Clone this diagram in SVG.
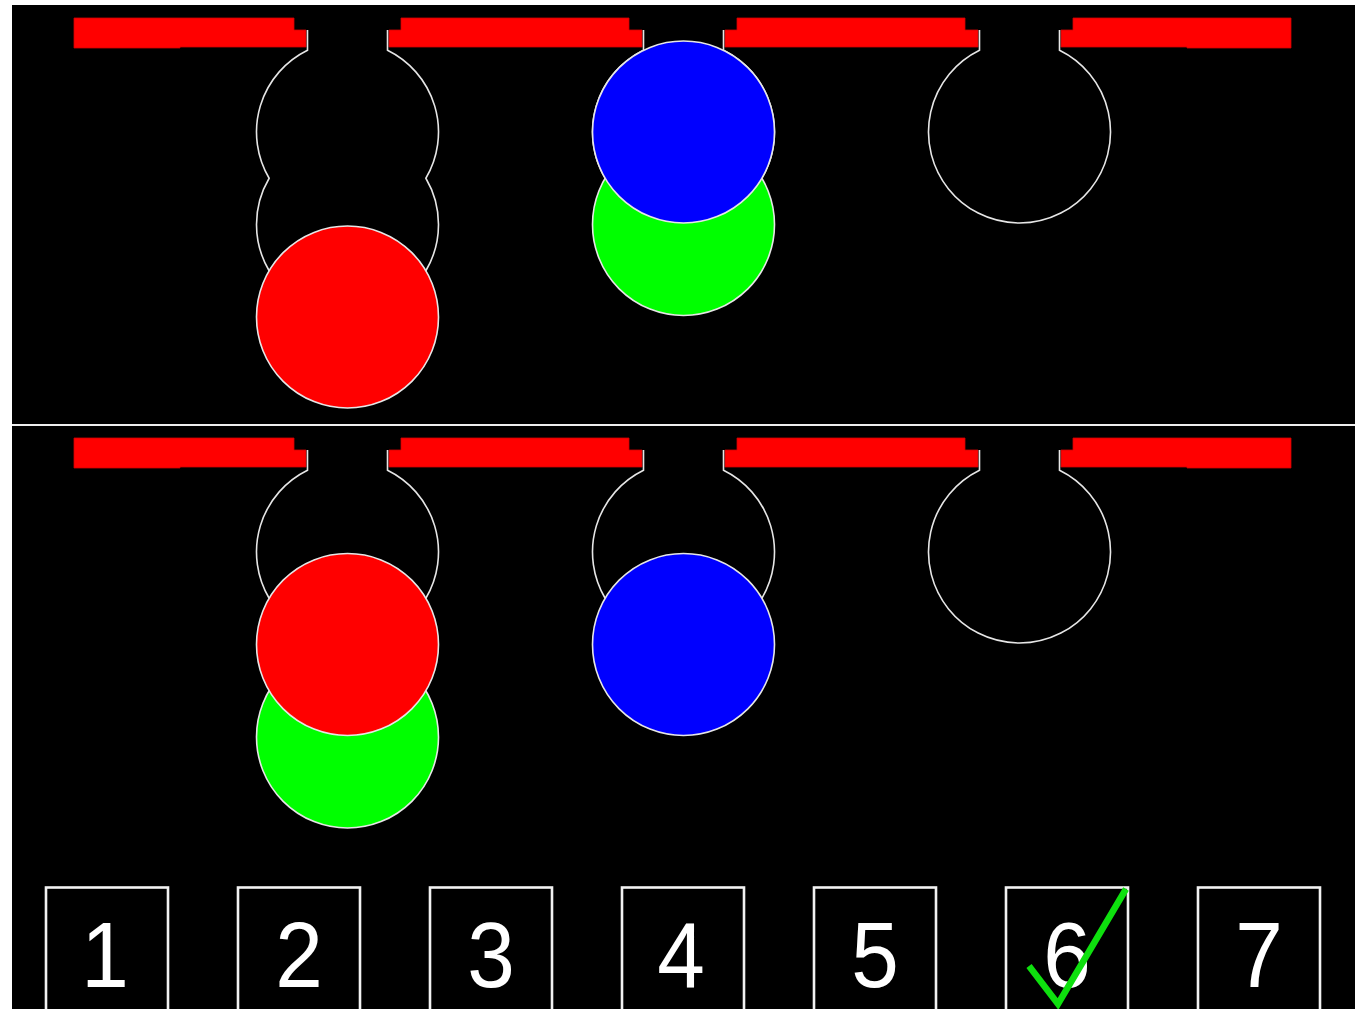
<svg xmlns="http://www.w3.org/2000/svg" width="1355" height="1009" viewBox="0 0 1355 1009">
<style>
.bar{fill:#ff0000;stroke:#d00000;stroke-width:0.8}
.ol{fill:none;stroke:#e6e6e6;stroke-width:1.6}
.red{fill:#ff0000;stroke:#e6e6e6;stroke-width:1.6}
.grn{fill:#00ff00;stroke:#e6e6e6;stroke-width:1.6}
.blu{fill:#0000ff;stroke:#e6e6e6;stroke-width:1.6}
.box{fill:#000;stroke:#f2f2f2;stroke-width:2.6}
.num{fill:#fff;font-family:"Liberation Sans",Arial,sans-serif;font-size:93px;text-anchor:middle}
</style>
<defs>
<g id="bars">
<polygon class="bar" points="74,18 294,18 294,30 306,30 306,47 180,47 180,48 74,48"/>
<polygon class="bar" points="401,18 629,18 629,30 642,30 642,47 389,47 389,30 401,30"/>
<polygon class="bar" points="737,18 965,18 965,30 978,30 978,47 725,47 725,30 737,30"/>
<polygon class="bar" points="1073,18 1291,18 1291,48 1187,48 1187,47 1061,47 1061,30 1073,30"/>
</g>
</defs>
<rect x="0" y="0" width="1355" height="1009" fill="#fff"/>
<rect x="12" y="5" width="1343" height="1004" fill="#000"/>
<rect x="12" y="424" width="1343" height="2" fill="#eeeeee"/>

<g id="top-panel">
<use href="#bars"/>
<g id="top-col1">
<path class="ol" d="M307.5,30 V50.26 A91,91 0 0 0 269.13,178.25 A91,91 0 0 0 269.13,270.75 M387.5,30 V50.26 A91,91 0 0 1 425.87,178.25 A91,91 0 0 1 425.87,270.75"/>
<circle class="red" cx="347.5" cy="317" r="91"/>
</g>
<g id="top-col2">
<path class="ol" d="M643.5,30 V50.26 A91,91 0 0 0 605.13,178.25 M723.5,30 V50.26 A91,91 0 0 1 761.87,178.25"/>
<circle class="grn" cx="683.5" cy="224.5" r="91"/>
<circle class="blu" cx="683.5" cy="132" r="91"/>
</g>
<g id="top-col3">
<path class="ol" d="M979.5,30 V50.26 A91,91 0 1 0 1059.5,50.26 V30"/>
</g>
</g>

<g id="bottom-panel">
<use href="#bars" y="420"/>
<g id="bot-col1">
<path class="ol" d="M307.5,450 V470.26 A91,91 0 0 0 269.13,598.25 M387.5,450 V470.26 A91,91 0 0 1 425.87,598.25"/>
<circle class="grn" cx="347.5" cy="737" r="91"/>
<circle class="red" cx="347.5" cy="644.5" r="91"/>
</g>
<g id="bot-col2">
<path class="ol" d="M643.5,450 V470.26 A91,91 0 0 0 605.13,598.25 M723.5,450 V470.26 A91,91 0 0 1 761.87,598.25"/>
<circle class="blu" cx="683.5" cy="644.5" r="91"/>
</g>
<g id="bot-col3">
<path class="ol" d="M979.5,450 V470.26 A91,91 0 1 0 1059.5,470.26 V450"/>
</g>
</g>

<g id="options">
<g id="opt1"><rect class="box" x="46" y="887.5" width="122" height="130"/><text class="num" transform="scale(0.92,1)" x="114.1" y="987">1</text></g>
<g id="opt2"><rect class="box" x="238" y="887.5" width="122" height="130"/><text class="num" transform="scale(0.92,1)" x="325" y="987">2</text></g>
<g id="opt3"><rect class="box" x="430" y="887.5" width="122" height="130"/><text class="num" transform="scale(0.92,1)" x="533.7" y="987">3</text></g>
<g id="opt4"><rect class="box" x="622" y="887.5" width="122" height="130"/><text class="num" transform="scale(0.92,1)" x="740.2" y="987">4</text></g>
<g id="opt5"><rect class="box" x="814" y="887.5" width="122" height="130"/><text class="num" transform="scale(0.92,1)" x="951.1" y="987">5</text></g>
<g id="opt6"><rect class="box" x="1006" y="887.5" width="122" height="130"/><text class="num" transform="scale(0.92,1)" x="1159.8" y="987">6</text></g>
<g id="opt7"><rect class="box" x="1198" y="887.5" width="122" height="130"/><text class="num" transform="scale(0.92,1)" x="1368.5" y="987">7</text></g>
</g>
<g id="connectors">
<polyline points="1029,966 1058,1004 1126,889" fill="none" stroke="#0ee00e" stroke-width="6.5" stroke-linejoin="miter"/>
</g>
</svg>
